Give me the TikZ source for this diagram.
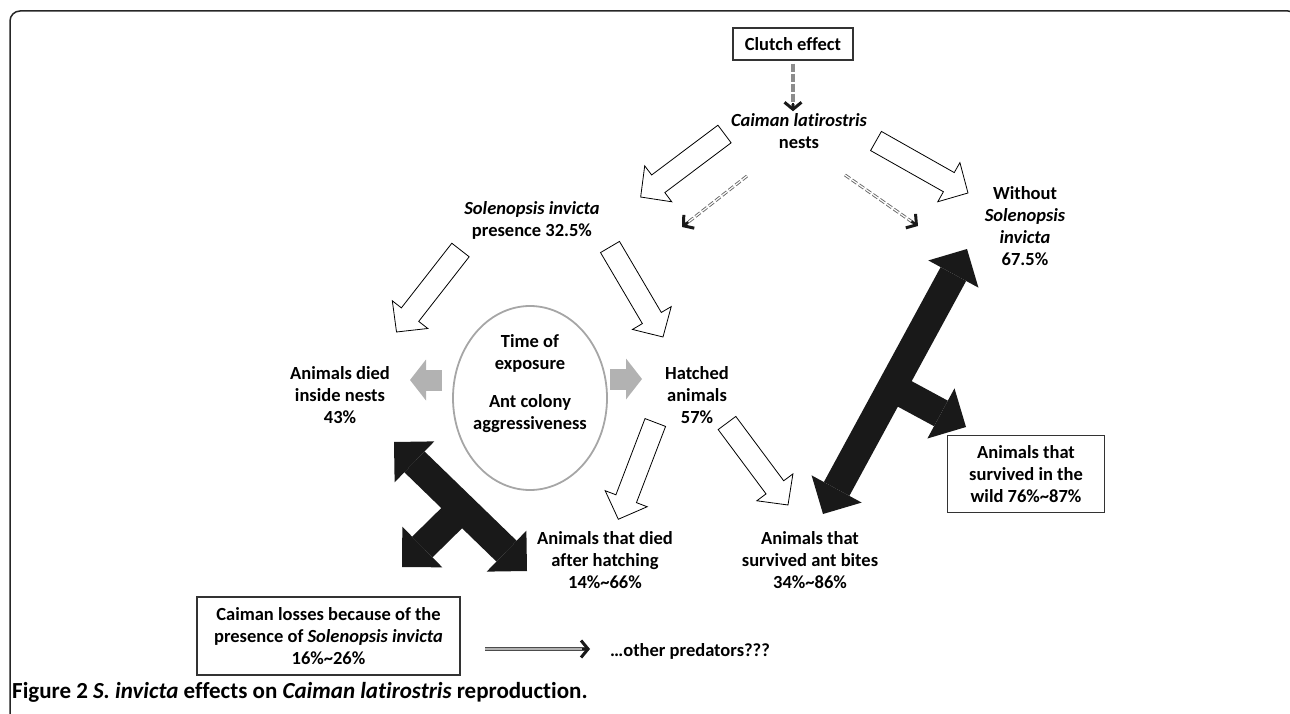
\documentclass[tikz,border=0pt]{standalone}
\usepackage{fontspec}
\setmainfont{Carlito}[Ligatures=NoCommon]
\usetikzlibrary{arrows.meta,calc,shapes.geometric}

\tikzset{
  txt/.style={align=center, font=\fontsize{18.5}{22}\selectfont\bfseries, inner sep=2pt},
  boxed/.style={txt, draw=black!80, line width=1.2pt},
  hollow/.style={draw=black, fill=white, line width=0.8pt, line join=miter},
  grayarrow/.style={draw=black!30, line width=21pt, -{Triangle[width=41pt,length=16pt,line width=0pt]}},
  bigarrow/.style={draw=black!90, line width=29pt},
  bigtip/.style={arrows={-{Triangle[width=57pt,length=28.5pt,line width=0pt]}}},
  bigtips/.style={arrows={{Triangle[width=57pt,length=28.5pt,line width=0pt]}-{Triangle[width=57pt,length=28.5pt,line width=0pt]}}},
  barb/.style={draw=black!90, line width=2.5pt, -{Straight Barb[length=7pt, width=17pt, line width=3pt]}},
  clutcharrow/.style={draw=black!45, line width=3.5pt, dash pattern=on 8pt off 2pt},
  dbldash/.style={draw=black!60, line width=0.9pt, double=white, double distance=1.2pt,
    dash pattern=on 6pt off 2.5pt},
  dblline/.style={draw=black!70, line width=1.1pt, double=black!30, double distance=1.6pt}
}

% block arrow with a thin outline, from #1 to its tip #2
\newcommand\hollowarrow[2]{%
  \draw[hollow] let \p1=(#1), \p2=(#2),
      \n1={atan2(\y2-\y1,\x2-\x1)}, \n2={veclen(\x2-\x1,\y2-\y1)} in
    [shift={(\p1)}, rotate=\n1]
    (0pt,-11pt) -- ({\n2-22pt},-11pt) -- ({\n2-22pt},-22.5pt) -- ({\n2*1pt},0pt)
    -- ({\n2-22pt},22.5pt) -- ({\n2-22pt},11pt) -- (0pt,11pt) -- cycle;}

\begin{document}
\begin{tikzpicture}[x=1pt, y=-1pt]
\useasboundingbox (0,0) rectangle (1290,714);

% frame
\draw[black!85, line width=1.5pt, rounded corners=10pt] (10,730) -- (10,11) -- (1298,11) -- (1298,730);

% texts
\node[boxed, minimum width=120, minimum height=32] (clutch) at (793,44) {Clutch effect};
\node[txt] (nests) at (799,131) {\textit{Caiman latirostris}\\nests};
\node[txt] (pres) at (532,220) {\textit{Solenopsis invicta}\\presence 32.5\%};
\node[txt] (without) at (1025,226) {Without\\\textit{Solenopsis}\\\textit{invicta}\\67.5\%};
\node[txt] (died) at (340,395) {Animals died\\inside nests\\43\%};
\node[txt] (hatched) at (697,395) {Hatched\\animals\\57\%};
\node[draw=black!35, line width=1.8pt, ellipse, minimum width=154, minimum height=184] (exposure) at (530,398) {};
\node[txt] (time) at (530,353.5) {Time of\\exposure};
\node[txt] (colony) at (530,414) {Ant colony\\aggressiveness};
\node[txt] (after) at (605,560) {Animals that died\\after hatching\\14\%\textasciitilde66\%};
\node[txt] (bites) at (810,560) {Animals that\\survived ant bites\\34\%\textasciitilde86\%};
\node[boxed, minimum width=157, minimum height=77] (wild) at (1026,474) {Animals that\\survived in the\\wild 76\%\textasciitilde87\%};
\node[boxed, minimum width=263, minimum height=78] (losses) at (328.5,636) {Caiman losses because of the\\presence of \textit{Solenopsis invicta}\\16\%\textasciitilde26\%};
\node[txt, anchor=west] (others) at (608,651) {…other predators???};
\node[txt, anchor=west, font=\fontsize{23}{26}\selectfont\bfseries] (caption) at (10,692) {Figure 2 \textit{S. invicta} effects on \textit{Caiman latirostris} reproduction.};

% arrow ends
\coordinate (nests-sw) at (724.5,134);  \coordinate (pres-ne) at (640.4,197.2);
\coordinate (nests-se) at (876,141);    \coordinate (without-nw) at (968,193);
\coordinate (pres-sw) at (460.5,250);   \coordinate (died-ne) at (396.5,332);
\coordinate (pres-se) at (610,247);     \coordinate (hatched-nw) at (663,337);
\coordinate (hatched-sw) at (655.3,422.5); \coordinate (after-n) at (618.3,519.3);
\coordinate (hatched-se) at (727,423);  \coordinate (bites-n) at (788,505);
\coordinate (dash-l0) at (747,176);     \coordinate (dash-l1) at (682,227);
\coordinate (dash-r0) at (845,175);     \coordinate (dash-r1) at (918,226);
\coordinate (gray-l0) at (442,380);     \coordinate (gray-l1) at (410,380);
\coordinate (gray-r0) at (610,379);     \coordinate (gray-r1) at (642,379);
\coordinate (loss-a) at (394,442);      \coordinate (loss-b) at (527,571);
\coordinate (loss-m) at (462,508);      \coordinate (loss-c) at (402,567);
\coordinate (wild-a) at (823,514);      \coordinate (wild-b) at (967,249);
\coordinate (wild-m) at (892,387);      \coordinate (wild-c) at (966,427);
\coordinate (pred-a) at (485,649);      \coordinate (pred-b) at (590,649);

% hollow arrows
\hollowarrow{nests-sw}{pres-ne}
\hollowarrow{nests-se}{without-nw}
\hollowarrow{pres-sw}{died-ne}
\hollowarrow{pres-se}{hatched-nw}
\hollowarrow{hatched-sw}{after-n}
\hollowarrow{hatched-se}{bites-n}

% dashed arrows, tips drawn solid on top
\draw[clutcharrow, shorten <=3pt, shorten >=4pt] (clutch.south) -- (clutch.south |- nests.north);
\draw[barb] ($(clutch.south |- nests.north)+(0,-8)$) -- (clutch.south |- nests.north);
\draw[dbldash, shorten >=4pt] (dash-l0) -- (dash-l1);
\draw[barb] ($(dash-l1)!8pt!(dash-l0)$) -- (dash-l1);
\draw[dbldash, shorten >=4pt] (dash-r0) -- (dash-r1);
\draw[barb] ($(dash-r1)!8pt!(dash-r0)$) -- (dash-r1);

% gray arrows
\draw[grayarrow] (gray-l0) -- (gray-l1);
\draw[grayarrow] (gray-r0) -- (gray-r1);

% black arrows
\draw[bigarrow, bigtips] (loss-a) -- (loss-b);
\draw[bigarrow, bigtip] (loss-m) -- (loss-c);
\draw[bigarrow, bigtips] (wild-a) -- (wild-b);
\draw[bigarrow, bigtip] (wild-m) -- (wild-c);

\draw[dblline, shorten >=4pt] (pred-a) -- (pred-b);
\draw[barb] ($(pred-b)+(-8,0)$) -- (pred-b);
\end{tikzpicture}
\end{document}
